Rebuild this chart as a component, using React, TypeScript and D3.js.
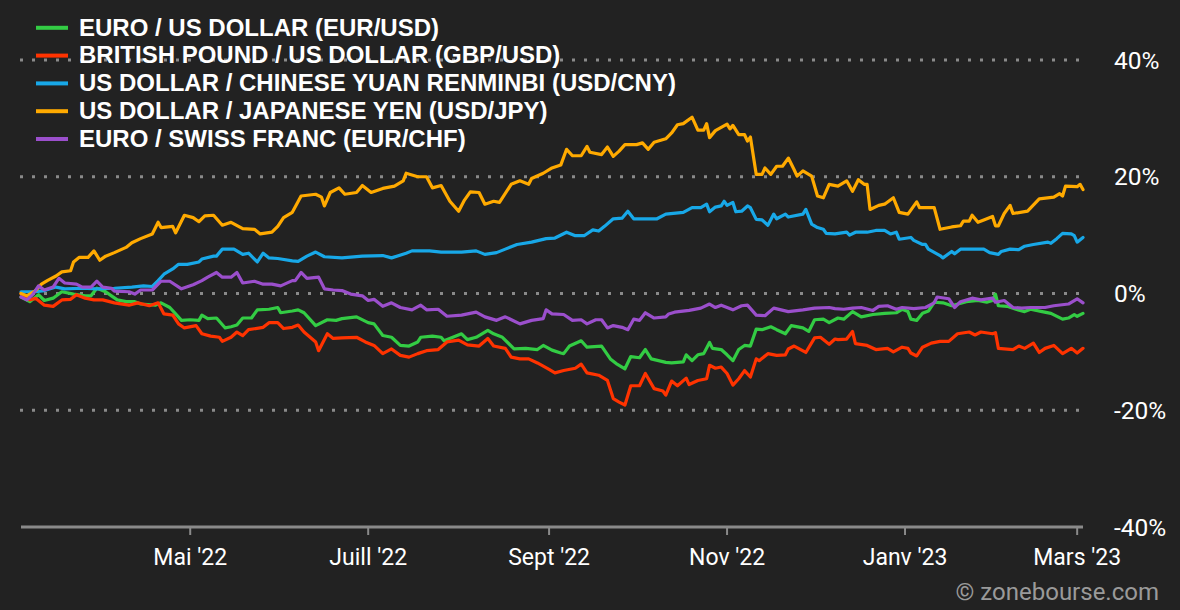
import { useEffect } from "react";
import * as d3 from "d3";

// one year of daily closes as [days since start, % change]
const START = new Date(2022, 2, 4);
const END = new Date(2023, 2, 3);

const eurUsd: [number, number][] = [
  [0, -0.6], [3, -1.4], [6, -0.2], [8, -1.2], [11, -0.8], [14, 0.3], [18, -0.1], [22, -0.4], [24, -0.4], [26, 0.9],
  [29, 0.3], [31, -0.4], [33, -1.1], [36, -1.4], [39, -1.4], [41, -1.8], [46, -2.0], [48, -1.6], [51, -2.4], [53, -3.5],
  [55, -4.6], [58, -4.5], [61, -4.6], [62, -3.7], [64, -4.3], [67, -4.2], [70, -5.9], [72, -5.7], [74, -5.4], [76, -4.2],
  [79, -4.2], [81, -2.8], [85, -2.7], [88, -2.4], [89, -3.3], [93, -3.0], [95, -2.8], [97, -3.3], [101, -5.5], [105, -4.5],
  [108, -4.6], [110, -4.3], [115, -4.0], [119, -5.0], [121, -5.2], [124, -7.2], [127, -7.5], [130, -8.9], [133, -9.0], [136, -8.3],
  [137, -7.5], [141, -7.3], [144, -7.5], [145, -8.1], [148, -7.5], [151, -6.9], [153, -7.9], [156, -7.5], [160, -6.3], [162, -6.9],
  [165, -7.5], [169, -9.5], [173, -9.4], [177, -9.6], [179, -8.9], [182, -9.7], [185, -10.2], [186, -10.3], [188, -9.0], [192, -8.1],
  [194, -9.2], [199, -9.0], [202, -11.2], [204, -12.0], [207, -12.9], [209, -10.8], [212, -11.0], [214, -9.6], [216, -11.2], [221, -11.8],
  [223, -11.9], [227, -11.7], [228, -10.5], [230, -11.5], [232, -10.5], [234, -10.3], [236, -8.4], [237, -9.4], [240, -9.6], [242, -10.5],
  [244, -11.5], [246, -9.6], [248, -8.9], [250, -9.0], [252, -6.1], [254, -6.2], [257, -5.7], [259, -6.2], [262, -6.9], [264, -5.5],
  [268, -5.9], [270, -6.5], [272, -4.5], [275, -4.4], [277, -5.0], [280, -4.2], [282, -4.4], [285, -3.1], [288, -4.0], [292, -3.6],
  [296, -3.4], [300, -3.3], [302, -2.7], [304, -3.1], [305, -4.4], [307, -4.6], [309, -3.4], [311, -3.0], [313, -1.5], [316, -1.6],
  [319, -2.1], [324, -1.4], [328, -1.2], [331, -1.5], [333, -1.2], [334, -0.1], [335, -2.1], [338, -2.2], [341, -2.7], [344, -3.1],
  [346, -2.7], [350, -3.1], [353, -3.4], [357, -4.4], [359, -4.2], [361, -3.6], [362, -3.9], [364, -3.4],
];

const gbpUsd: [number, number][] = [
  [0, 0], [3, -1.1], [5, -0.8], [8, -2.0], [11, -2.2], [14, -1.1], [17, -1.0], [19, -0.2], [22, -0.8], [25, -1.1],
  [28, -1.1], [32, -1.6], [37, -2.0], [40, -1.6], [44, -2.1], [47, -1.6], [49, -3.5], [52, -3.7], [54, -5.2], [56, -5.9],
  [60, -5.5], [62, -6.9], [65, -7.3], [68, -7.5], [69, -8.2], [72, -7.5], [74, -6.6], [76, -7.2], [78, -6.2], [83, -5.8],
  [85, -5.0], [88, -5.0], [90, -6.0], [93, -5.8], [95, -5.4], [97, -6.6], [101, -8.3], [102, -9.8], [105, -6.9], [107, -7.7],
  [110, -7.6], [115, -7.5], [118, -8.3], [121, -8.9], [124, -10.3], [127, -9.5], [130, -10.6], [133, -10.9], [136, -10.3], [139, -9.8],
  [143, -9.6], [146, -8.3], [150, -8.0], [153, -8.8], [157, -9.0], [160, -7.7], [162, -9.0], [166, -9.4], [168, -10.9], [171, -11.2],
  [174, -11.2], [177, -11.9], [181, -13.0], [183, -13.6], [186, -13.2], [190, -12.8], [192, -12.1], [194, -13.6], [198, -14.0], [201, -14.9],
  [203, -18.0], [205, -18.6], [207, -19.1], [209, -15.8], [212, -15.8], [214, -13.7], [217, -16.3], [220, -16.7], [221, -17.4], [223, -15.0],
  [225, -15.8], [228, -14.5], [229, -15.6], [232, -14.9], [235, -14.6], [236, -12.3], [238, -12.8], [240, -12.6], [242, -13.7], [244, -15.7],
  [246, -14.6], [248, -13.2], [250, -14.3], [252, -11.2], [253, -11.5], [256, -10.3], [259, -10.6], [262, -10.5], [263, -9.5], [265, -9.0],
  [269, -10.1], [272, -7.6], [274, -7.5], [277, -8.7], [279, -7.8], [280, -7.9], [283, -7.8], [285, -6.5], [286, -8.6], [290, -8.9],
  [293, -9.6], [297, -9.4], [299, -10.0], [302, -9.2], [304, -9.4], [305, -10.2], [307, -10.7], [309, -9.2], [312, -8.5], [315, -8.2],
  [318, -8.2], [321, -6.9], [325, -6.6], [327, -7.1], [329, -6.6], [333, -6.9], [334, -6.7], [335, -9.4], [340, -9.6], [342, -9.0],
  [344, -9.4], [347, -8.5], [349, -10.1], [351, -9.4], [354, -8.9], [357, -10.3], [360, -9.4], [362, -10.2], [364, -9.4],
];

const usdCny: [number, number][] = [
  [0, 0.3], [5, 0.3], [8, 0.5], [12, 1.1], [15, 0.8], [21, 0.9], [26, 0.8], [32, 0.9], [38, 1.1], [42, 1.3],
  [45, 1.2], [47, 2.2], [49, 3.3], [52, 4.2], [54, 5.0], [57, 5.0], [61, 5.4], [62, 5.9], [66, 6.4], [67, 6.4],
  [69, 7.6], [73, 7.6], [76, 6.7], [78, 6.9], [81, 5.4], [83, 6.9], [85, 6.1], [88, 6.0], [93, 5.6], [95, 5.5],
  [98, 6.4], [101, 7.1], [104, 6.3], [110, 6.1], [117, 6.4], [124, 6.5], [127, 6.1], [132, 6.9], [134, 7.3], [140, 7.3],
  [144, 7.1], [151, 7.1], [156, 7.3], [159, 6.7], [163, 7.0], [166, 7.6], [170, 8.4], [175, 8.8], [180, 9.4], [183, 9.5],
  [187, 10.5], [190, 9.9], [193, 9.9], [196, 10.9], [198, 10.7], [200, 11.5], [203, 12.8], [206, 12.9], [208, 14.1], [210, 12.8],
  [214, 12.8], [218, 12.8], [221, 13.6], [227, 13.9], [230, 14.7], [233, 14.7], [235, 15.3], [236, 14.0], [238, 14.8], [240, 15.0],
  [241, 15.8], [242, 15.1], [244, 15.6], [245, 14.0], [247, 14.1], [249, 15.0], [250, 14.7], [252, 12.7], [254, 12.6], [256, 11.7],
  [258, 13.6], [259, 12.8], [262, 13.6], [263, 13.1], [268, 13.6], [269, 14.4], [271, 11.9], [273, 11.3], [275, 11.0], [276, 10.3],
  [279, 10.2], [283, 10.5], [284, 10.0], [286, 10.5], [290, 10.5], [293, 10.8], [296, 10.8], [298, 10.2], [300, 10.5], [301, 9.3],
  [305, 9.6], [306, 9.1], [309, 8.4], [310, 8.4], [311, 7.6], [315, 6.5], [316, 6.1], [319, 7.2], [320, 6.8], [322, 7.6],
  [330, 7.6], [332, 7.0], [335, 6.7], [336, 7.2], [339, 7.6], [342, 7.5], [344, 8.1], [347, 8.4], [352, 8.8], [353, 8.6],
  [355, 9.4], [357, 10.3], [360, 10.2], [361, 9.9], [362, 8.8], [364, 9.6],
];

const usdJpy: [number, number][] = [
  [0, 0], [2, -0.4], [5, 0.5], [7, 1.6], [9, 2.2], [12, 3.0], [14, 3.7], [17, 3.9], [18, 5.4], [20, 6.2],
  [23, 6.2], [25, 7.3], [27, 5.7], [29, 6.4], [32, 7.0], [36, 7.9], [38, 8.7], [41, 9.4], [45, 10.2], [47, 12.2],
  [48, 11.3], [52, 11.5], [53, 10.4], [56, 13.4], [59, 13.0], [61, 12.3], [63, 13.3], [66, 13.4], [69, 11.7], [72, 12.2],
  [76, 11.1], [80, 11.0], [82, 10.2], [86, 10.5], [88, 11.5], [90, 13.0], [93, 13.9], [96, 16.7], [101, 17.0], [103, 16.5],
  [104, 15.0], [106, 17.3], [109, 18.1], [111, 17.0], [115, 17.3], [117, 18.5], [120, 17.3], [124, 18.0], [128, 18.4], [131, 19.3],
  [132, 20.6], [136, 20.0], [139, 20.0], [141, 18.1], [144, 18.5], [147, 15.8], [150, 14.1], [152, 16.0], [154, 17.4], [157, 17.3],
  [159, 15.3], [162, 15.8], [164, 15.6], [168, 18.7], [171, 19.3], [174, 18.7], [175, 19.7], [179, 20.6], [182, 21.5], [185, 22.0],
  [187, 24.7], [189, 23.6], [192, 23.6], [194, 25.2], [195, 24.2], [199, 23.8], [201, 25.1], [203, 23.5], [205, 24.4], [207, 25.5],
  [211, 25.5], [213, 25.8], [215, 24.7], [217, 25.9], [221, 26.5], [223, 27.5], [225, 28.9], [227, 29.1], [230, 30.2], [232, 28.0],
  [234, 28.0], [235, 29.1], [236, 26.7], [238, 27.9], [242, 29.0], [243, 28.2], [244, 28.8], [246, 27.2], [248, 27.2], [249, 26.1],
  [250, 26.8], [252, 20.4], [254, 20.4], [255, 21.5], [257, 20.4], [259, 21.8], [261, 21.8], [263, 23.2], [265, 21.2], [266, 20.1],
  [268, 21.0], [271, 20.1], [273, 16.7], [275, 16.4], [277, 18.7], [280, 18.4], [283, 19.3], [285, 17.5], [287, 19.5], [289, 18.7],
  [290, 18.7], [291, 14.4], [294, 15.1], [296, 15.3], [299, 16.4], [301, 13.9], [304, 13.6], [307, 15.7], [308, 14.7], [313, 14.7],
  [315, 11.0], [319, 11.4], [322, 11.6], [323, 12.4], [325, 12.4], [326, 13.4], [328, 12.2], [330, 12.6], [333, 13.2], [334, 11.6],
  [335, 11.6], [337, 13.7], [339, 15.1], [340, 13.7], [345, 14.1], [349, 16.2], [354, 16.5], [356, 17.1], [357, 16.7], [358, 18.4],
  [362, 18.3], [363, 18.7], [364, 17.8],
];

const eurChf: [number, number][] = [
  [0, -0.6], [2, -1.1], [4, -0.2], [6, 1.3], [8, 0.6], [11, 1.1], [13, 2.6], [15, 1.8], [19, 1.6], [21, 1.1],
  [24, 1.1], [26, 2.1], [28, 1.1], [31, 0.9], [32, 0.4], [37, 0.3], [39, -0.1], [41, 0.6], [45, 0.6], [48, 2.1],
  [51, 2.1], [55, 0.8], [59, 1.5], [62, 2.2], [64, 2.8], [67, 3.6], [69, 2.8], [72, 2.8], [74, 3.6], [76, 1.8],
  [80, 2.1], [83, 1.6], [86, 1.6], [89, 1.3], [93, 2.2], [94, 2.2], [96, 3.6], [98, 2.6], [102, 2.8], [104, 0.8],
  [107, 0.6], [110, 0.5], [113, -0.1], [117, -0.4], [119, -1.2], [121, -1.0], [124, -2.2], [127, -1.6], [130, -2.4], [134, -2.8],
  [137, -2.0], [139, -2.8], [143, -2.7], [146, -3.9], [151, -3.7], [156, -3.2], [159, -4.0], [163, -4.6], [166, -4.0], [171, -5.2],
  [175, -4.6], [179, -4.3], [180, -2.8], [182, -3.5], [186, -3.6], [189, -4.6], [192, -4.5], [194, -5.2], [197, -4.5], [199, -4.5],
  [201, -5.9], [203, -5.5], [206, -5.8], [208, -6.2], [210, -4.4], [212, -4.6], [214, -3.3], [217, -4.2], [221, -4.0], [222, -3.5],
  [224, -3.2], [229, -2.9], [233, -2.5], [236, -1.8], [238, -2.4], [240, -2.0], [244, -2.8], [247, -2.1], [249, -2.0], [252, -3.7],
  [255, -3.8], [258, -2.5], [263, -3.1], [268, -2.8], [272, -2.5], [277, -2.4], [279, -2.6], [282, -2.7], [285, -2.5], [288, -2.4],
  [292, -2.9], [294, -2.2], [297, -2.1], [300, -2.7], [302, -2.4], [306, -2.6], [310, -2.4], [313, -1.6], [314, -0.6], [318, -0.9],
  [320, -2.4], [322, -1.4], [326, -0.8], [329, -1.1], [333, -0.8], [334, -1.5], [337, -1.2], [340, -2.4], [343, -2.5], [346, -2.4],
  [351, -2.4], [354, -2.1], [359, -1.8], [362, -0.9], [364, -1.6],
];

const seriesNames = [
  "EURO / US DOLLAR (EUR/USD)",
  "BRITISH POUND / US DOLLAR (GBP/USD)",
  "US DOLLAR / CHINESE YUAN RENMINBI (USD/CNY)",
  "US DOLLAR / JAPANESE YEN (USD/JPY)",
  "EURO / SWISS FRANC (EUR/CHF)",
];
const seriesData = [eurUsd, gbpUsd, usdCny, usdJpy, eurChf];
const seriesColors = ["#33cc44", "#ff3300", "#18a8e8", "#ffaa00", "#9b4fcc"];

const yTicks = [40, 20, 0, -20, -40];
const monthTicks = [
  new Date(2022, 4, 1),
  new Date(2022, 6, 1),
  new Date(2022, 8, 1),
  new Date(2022, 10, 1),
  new Date(2023, 0, 1),
  new Date(2023, 2, 1),
];
const monthLabels = ["Mai '22", "Juill '22", "Sept '22", "Nov '22", "Janv '23", "Mars '23"];

const W = 1180;
const H = 610;
const FONT = "Roboto, 'Liberation Sans', Arial, sans-serif";
const LEGEND_FONT = "'Liberation Sans', Arial, Helvetica, sans-serif";

export default function App() {
  useEffect(() => {
    document.body.style.margin = "0";
    document.body.style.background = "#222222";
  }, []);

  const x = d3.scaleTime().domain([START, END]).range([21, 1083]);
  const y = d3.scaleLinear().domain([-40, 40]).range([527, 60]);

  const line = d3
    .line<[number, number]>()
    .x((d) => x(d3.timeDay.offset(START, d[0])))
    .y((d) => y(d[1]));

  return (
    <svg width={W} height={H} style={{ display: "block", background: "#222222" }} fontFamily={FONT}>
      <rect width={W} height={H} fill="#222222" />

      {/* dotted grid */}
      {yTicks
        .filter((t) => t !== -40)
        .map((t) => (
          <line
            key={t}
            x1={20}
            x2={1080}
            y1={y(t)}
            y2={y(t)}
            stroke="#8a8a8a"
            strokeWidth={3}
            strokeDasharray="3 9"
          />
        ))}

      {/* bottom axis */}
      <line x1={21} x2={1083} y1={y(-40)} y2={y(-40)} stroke="#8a8a8a" strokeWidth={3} />
      {monthTicks.map((d, i) => (
        <g key={i} transform={`translate(${x(d)},0)`}>
          <line y1={y(-40)} y2={y(-40) + 8} stroke="#8a8a8a" strokeWidth={2} />
          <text y={565} textAnchor="middle" fill="#ffffff" fontSize={23}>
            {monthLabels[i]}
          </text>
        </g>
      ))}

      {/* y labels */}
      {yTicks.map((t) => (
        <text key={t} x={1114} y={y(t) + 8.5} fill="#ffffff" fontSize={24.5}>
          {`${t}%`}
        </text>
      ))}

      {/* series */}
      {seriesData.map((s, i) => (
        <path
          key={i}
          d={line(s) ?? ""}
          fill="none"
          stroke={seriesColors[i]}
          strokeWidth={3.2}
          strokeLinejoin="round"
          strokeLinecap="round"
        />
      ))}

      {/* legend */}
      {seriesNames.map((n, i) => (
        <g key={n} transform={`translate(0,${27.8 + i * 27.8})`}>
          <line x1={36} x2={68} stroke={seriesColors[i]} strokeWidth={4} />
          <text x={79} y={7.8} fill="#ffffff" fontSize={24} fontWeight="bold" fontFamily={LEGEND_FONT}>
            {n}
          </text>
        </g>
      ))}

      <text x={1159} y={600} textAnchor="end" fill="#9a9a9a" fontSize={24}>
        © zonebourse.com
      </text>
    </svg>
  );
}
